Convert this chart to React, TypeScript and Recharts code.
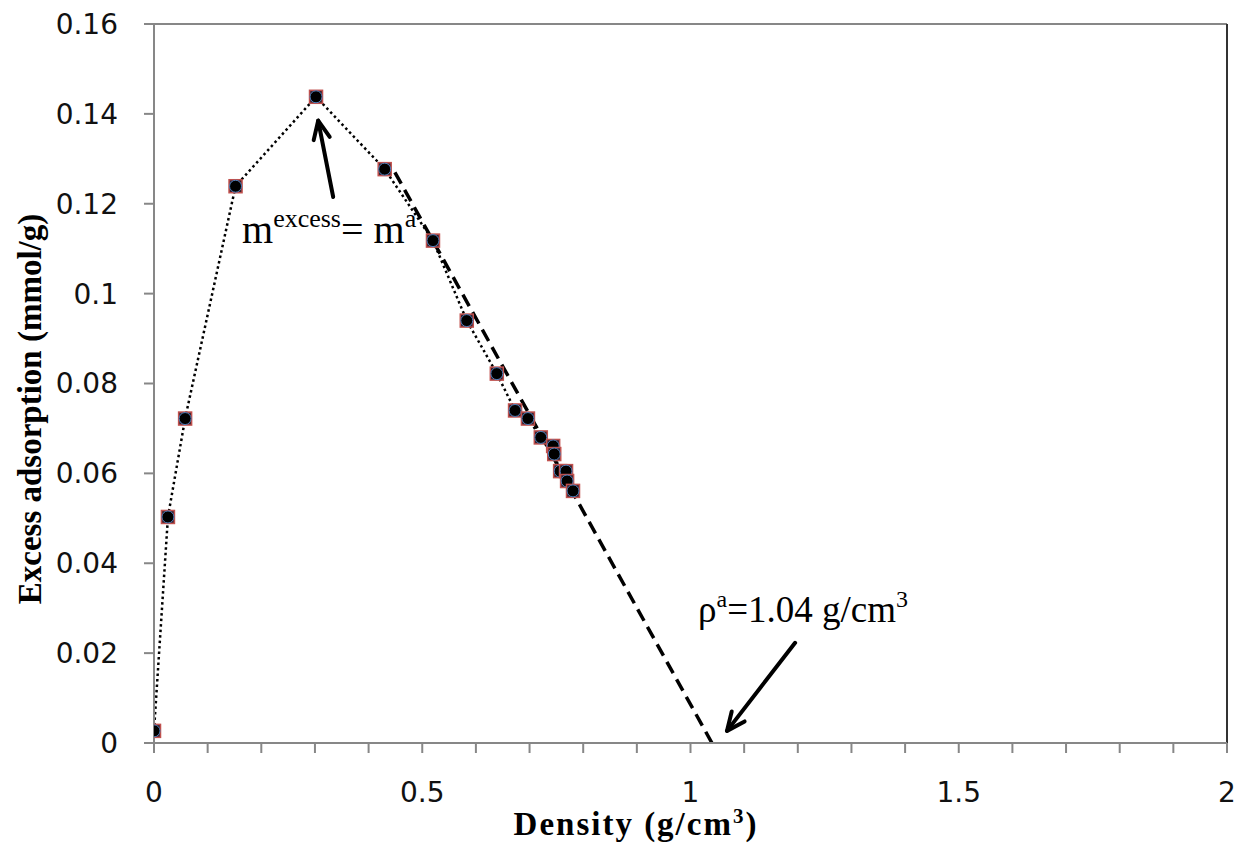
import React from 'react';
import { ComposedChart, Line, XAxis, YAxis, ReferenceLine, Label } from 'recharts';

const DENSITY = [0, 0.026, 0.058, 0.152, 0.302, 0.43, 0.52, 0.583, 0.639, 0.673, 0.697, 0.721, 0.744, 0.746, 0.757, 0.768, 0.77, 0.781];
const EXCESS = [0.0027, 0.0503, 0.0722, 0.1239, 0.1438, 0.1277, 0.1118, 0.094, 0.0822, 0.074, 0.0722, 0.068, 0.0661, 0.0643, 0.0605, 0.0605, 0.0583, 0.0561];

const FIT_X = [0.449, 1.04];
const FIT_Y = [0.127, 0];

const X_TICKS = [0, 0.1, 0.2, 0.3, 0.4, 0.5, 0.6, 0.7, 0.8, 0.9, 1, 1.1, 1.2, 1.3, 1.4, 1.5, 1.6, 1.7, 1.8, 1.9, 2];
const X_LABELED = [0, 0.5, 1, 1.5, 2];
const Y_TICKS = [0, 0.02, 0.04, 0.06, 0.08, 0.1, 0.12, 0.14, 0.16];

const measured = DENSITY.map((x, i) => ({ x, y: EXCESS[i] }));
const fit = FIT_X.map((x, i) => ({ x, y: FIT_Y[i] }));

const AXIS_GREY = '#878787';
const TICK_FONT = { fontFamily: '"DejaVu Sans", sans-serif', fontSize: 28, fill: '#111' };
const SERIF = '"Liberation Serif", "Times New Roman", serif';

function Marker(props: any) {
  const { cx, cy } = props;
  if (cx == null || cy == null) return null;
  return (
    <g>
      <rect x={cx - 6.5} y={cy - 6.5} width={13} height={13} fill="#3a2430" stroke="#c0504d" strokeWidth={1.5} />
      <circle cx={cx} cy={cy} r={6} fill="#000" stroke="#4f81bd" strokeWidth={1} />
    </g>
  );
}

function Arrow(props: any) {
  const { x1, y1, x2, y2 } = props;
  if ([x1, y1, x2, y2].some((v) => v == null || Number.isNaN(v))) return null;
  const ang = Math.atan2(y2 - y1, x2 - x1);
  const len = 20;
  const spread = 0.42;
  const ax = x2 - len * Math.cos(ang - spread);
  const ay = y2 - len * Math.sin(ang - spread);
  const bx = x2 - len * Math.cos(ang + spread);
  const by = y2 - len * Math.sin(ang + spread);
  return (
    <g stroke="#000" strokeWidth={4} fill="none" strokeLinecap="round" strokeLinejoin="round">
      <line x1={x1} y1={y1} x2={x2} y2={y2} />
      <polyline points={`${ax},${ay} ${x2},${y2} ${bx},${by}`} />
    </g>
  );
}

export default function App() {
  return (
    <div style={{ position: 'absolute', left: 0, top: 0, width: 1240, height: 848, background: '#fff' }}>
      <ComposedChart width={1240} height={848} margin={{ top: 24, right: 13, bottom: 45, left: 54 }}>
        <XAxis
          dataKey="x"
          type="number"
          domain={[0, 2]}
          ticks={X_TICKS}
          interval={0}
          tickFormatter={(v: number) => (X_LABELED.some((t) => Math.abs(t - v) < 1e-9) ? String(v) : '')}
          tick={TICK_FONT}
          tickSize={10}
          tickMargin={29}
          height={60}
          stroke={AXIS_GREY}
          strokeWidth={2}
          allowDataOverflow
        >
          <Label
            content={() => (
              <text x={636} y={835} textAnchor="middle" fontFamily={SERIF} fontWeight="bold" fontSize={33} letterSpacing={2} fill="#000">
                Density (g/cm<tspan fontSize={21} dy={-12}>3</tspan><tspan dy={12}>)</tspan>
              </text>
            )}
          />
        </XAxis>
        <YAxis
          type="number"
          domain={[0, 0.16]}
          ticks={Y_TICKS}
          interval={0}
          tick={TICK_FONT}
          tickSize={10}
          tickMargin={26}
          width={100}
          stroke={AXIS_GREY}
          strokeWidth={2}
          allowDataOverflow
        >
          <Label
            content={() => (
              <text
                x={30}
                y={409}
                transform="rotate(-90 30 409)"
                textAnchor="middle"
                dominantBaseline="central"
                fontFamily={SERIF}
                fontWeight="bold"
                fontSize={33}
                fill="#000"
              >
                Excess adsorption (mmol/g)
              </text>
            )}
          />
        </YAxis>
        <ReferenceLine y={0.16} stroke={AXIS_GREY} strokeWidth={2} />
        <ReferenceLine x={2} stroke="#333" strokeWidth={2} />
        <Line
          data={fit}
          dataKey="y"
          type="linear"
          stroke="#000"
          strokeWidth={3.5}
          strokeDasharray="13 7"
          dot={false}
          activeDot={false}
          isAnimationActive={false}
        />
        <Line
          data={measured}
          dataKey="y"
          type="linear"
          stroke="#000"
          strokeWidth={2.5}
          strokeDasharray="2.5 3"
          dot={<Marker />}
          activeDot={false}
          isAnimationActive={false}
        />
        <ReferenceLine
          segment={[{ x: 0.334, y: 0.1215 }, { x: 0.306, y: 0.1385 }]}
          shape={<Arrow />}
          label={
            <Label
              content={() => (
                <text x={242} y={243} fontFamily={SERIF} fontSize={40} fill="#000">
                  m<tspan fontSize={26} dy={-16}>excess</tspan>
                  <tspan dy={16}>= m</tspan>
                  <tspan fontSize={26} dy={-16}>a</tspan>
                </text>
              )}
            />
          }
        />
        <ReferenceLine
          segment={[{ x: 1.195, y: 0.0223 }, { x: 1.068, y: 0.0027 }]}
          shape={<Arrow />}
          label={
            <Label
              content={() => (
                <text x={698} y={622} fontFamily={SERIF} fontSize={37} fill="#000">
                  ρ<tspan fontSize={24} dy={-15}>a</tspan>
                  <tspan dy={15}>=1.04 g/cm</tspan>
                  <tspan fontSize={24} dy={-15}>3</tspan>
                </text>
              )}
            />
          }
        />
      </ComposedChart>
    </div>
  );
}
